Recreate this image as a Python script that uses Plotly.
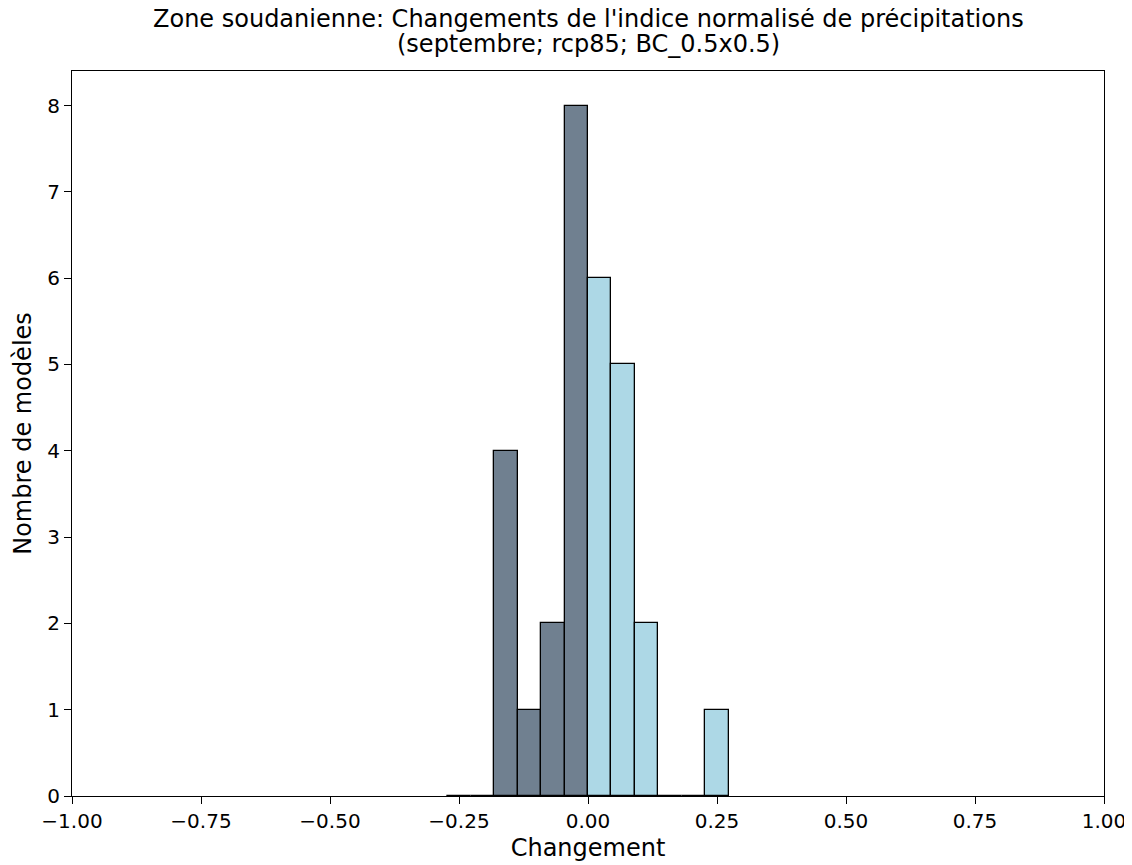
import plotly.graph_objects as go

bin_left = [-0.2727, -0.2273, -0.1818, -0.1364, -0.0909, -0.0455,
            0.0, 0.0455, 0.0909, 0.1364, 0.1818, 0.2273]
bin_width = 0.04545
counts = [0, 0, 4, 1, 2, 8, 6, 5, 2, 0, 0, 1]
neg_color = "#708090"
pos_color = "#ADD8E6"
x_ticks = [-1.0, -0.75, -0.5, -0.25, 0.0, 0.25, 0.5, 0.75, 1.0]
y_ticks = [0, 1, 2, 3, 4, 5, 6, 7, 8]
title_lines = ["Zone soudanienne: Changements de l'indice normalisé de précipitations",
               "(septembre; rcp85; BC_0.5x0.5)"]

centers = [b + bin_width / 2 for b in bin_left]
colors = [neg_color if c < 0 else pos_color for c in centers]

fig = go.Figure()
fig.add_trace(go.Bar(
    x=centers, y=counts, width=[bin_width] * len(centers),
    marker=dict(color=colors, line=dict(color="black", width=1.3)),
    showlegend=False,
))

def fmt(v):
    s = f"{v:.2f}"
    return s.replace("-", "\u2212")

W, H = 1124, 857
L, R, T, B = 64, 28, 63, 69
plot_h = H - T - B

def paper_y(py):
    return (H - B - py) / plot_h

fig.update_layout(
    width=W, height=H,
    paper_bgcolor="white", plot_bgcolor="white",
    margin=dict(l=L, r=R, t=T, b=B, autoexpand=False),
    font=dict(family="DejaVu Sans", size=20, color="black"),
    bargap=0,
    annotations=[
        dict(text=title_lines[0], x=0.5, xref="paper", y=paper_y(11), yref="paper",
             xanchor="center", yanchor="middle", showarrow=False, font=dict(size=24)),
        dict(text=title_lines[1], x=0.5, xref="paper", y=paper_y(36), yref="paper",
             xanchor="center", yanchor="middle", showarrow=False, font=dict(size=24)),
    ],
)
fig.update_xaxes(
    range=[-1, 1], tickvals=x_ticks, ticktext=[fmt(v) for v in x_ticks],
    showline=True, linecolor="black", linewidth=1.2, mirror=True, automargin=False,
    ticks="outside", ticklen=7, tickcolor="black", showgrid=False, zeroline=False,
    title=dict(text="Changement", standoff=7),
)
fig.update_yaxes(
    range=[0, 8.4], tickvals=y_ticks,
    showline=True, linecolor="black", linewidth=1.2, mirror=True, automargin=False,
    ticks="outside", ticklen=7, tickcolor="black", showgrid=False, zeroline=False,
    title=dict(text="Nombre de modèles", standoff=8),
)
fig.write_html("out.html")
